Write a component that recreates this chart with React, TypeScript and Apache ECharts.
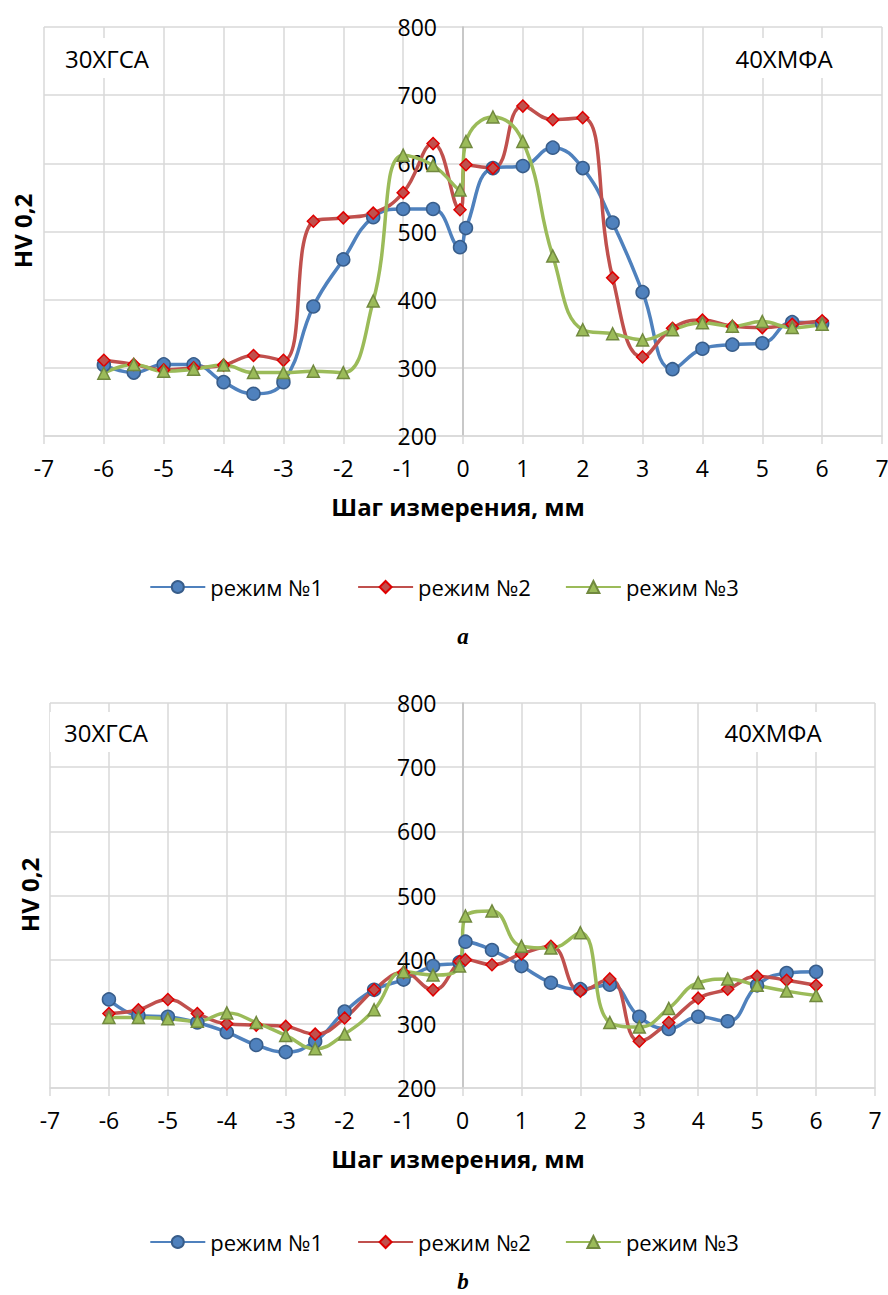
import React, { useEffect, useRef } from "react";
import * as echarts from "echarts";

// Measurement positions, mm (two points straddle the joint line at 0)
const X = [-6, -5.5, -5, -4.5, -4, -3.5, -3, -2.5, -2, -1.5, -1, -0.5, -0.05, 0.05, 0.5, 1, 1.5, 2, 2.5, 3, 3.5, 4, 4.5, 5, 5.5, 6];

const SERIES_NAMES = ["режим №1", "режим №2", "режим №3"];

// Chart a
const A1 = [304, 293, 305, 305, 279, 262, 279, 390, 459, 521, 533, 533, 477, 505, 593, 596, 623, 593, 513, 411, 298, 328, 334, 336, 367, 365];
const A2 = [311, 305, 297, 300, 304, 318, 311, 515, 520, 527, 557, 629, 532, 598, 593, 684, 664, 667, 432, 316, 358, 370, 361, 359, 364, 369];
const A3 = [292, 305, 295, 298, 304, 293, 293, 295, 293, 398, 612, 597, 561, 632, 668, 632, 464, 356, 350, 341, 356, 366, 361, 368, 359, 364];

// Chart b
const B1 = [338, 313, 311, 302, 287, 267, 256, 273, 319, 353, 369, 390, 396, 428, 415, 390, 364, 354, 361, 311, 292, 311, 304, 360, 379, 381];
const B2 = [316, 322, 338, 316, 300, 298, 296, 284, 309, 353, 380, 353, 397, 400, 392, 409, 421, 351, 370, 273, 302, 340, 354, 374, 368, 360];
const B3 = [310, 310, 308, 304, 317, 302, 282, 261, 284, 322, 381, 376, 390, 468, 476, 421, 418, 442, 302, 295, 324, 364, 370, 360, 351, 344];

const X_MIN = -7;
const X_MAX = 7;
const Y_MIN = 200;
const Y_MAX = 800;

const X_TITLE = "Шаг измерения, мм";
const Y_TITLE = "HV 0,2";
const LEFT_STEEL = "30ХГСА";
const RIGHT_STEEL = "40ХМФА";

const FONT = "'Open Sans', 'Noto Sans', sans-serif";
const GRID_COLOR = "#d9d9d9";

const STYLES = [
  { line: "#4f81bd", fill: "#4f81bd", border: "#385d8a", symbol: "circle", size: 13 },
  { line: "#c0504d", fill: "#c0504d", border: "#e00000", symbol: "diamond", size: 12 },
  { line: "#9bbb59", fill: "#9bbb59", border: "#71893f", symbol: "triangle", size: 12 },
];

// plot-area geometry of the two panels
const PANELS = [
  { left: 44, width: 838, top: 27, height: 409 },
  { left: 50, width: 825, top: 703, height: 385 },
];

function makeSeries(values: number[], idx: number, axis: number) {
  const s = STYLES[idx];
  return {
    name: SERIES_NAMES[idx],
    type: "line",
    xAxisIndex: axis,
    yAxisIndex: axis,
    data: X.map((x, i) => [x, values[i]]),
    smooth: 0.45,
    symbol: s.symbol,
    symbolSize: s.size,
    showAllSymbol: true,
    lineStyle: { color: s.line, width: 3.5 },
    itemStyle: { color: s.fill, borderColor: s.border, borderWidth: 1.5 },
    emphasis: { disabled: true },
  };
}

function makeXAxis(gridIndex: number) {
  return {
    type: "value",
    gridIndex,
    min: X_MIN,
    max: X_MAX,
    interval: 1,
    axisLine: { show: true, onZero: false, lineStyle: { color: GRID_COLOR, width: 1.5 } },
    axisTick: { show: true, length: 8, lineStyle: { color: GRID_COLOR, width: 1.5 } },
    axisLabel: { fontSize: 23, color: "#000", fontFamily: FONT, margin: 20 },
    splitLine: { show: true, lineStyle: { color: GRID_COLOR, width: 1.5 } },
  };
}

function makeYAxis(gridIndex: number) {
  const p = PANELS[gridIndex];
  // value axis crosses at x = 0: shift the left axis to the zero position
  const zeroOffset = (p.width * (0 - X_MIN)) / (X_MAX - X_MIN);
  return {
    type: "value",
    gridIndex,
    position: "left",
    offset: -zeroOffset,
    min: Y_MIN,
    max: Y_MAX,
    interval: 100,
    axisLine: { show: true, onZero: false, lineStyle: { color: "#bfbfbf", width: 1.5 } },
    axisTick: { show: false },
    axisLabel: { fontSize: 23, color: "#000", fontFamily: FONT, margin: 26 },
    splitLine: { show: true, lineStyle: { color: GRID_COLOR, width: 1.5 } },
  };
}

function text(t: string, x: number, y: number, extra: any = {}) {
  const { rotation, ...style } = extra;
  return {
    type: "text",
    x,
    y,
    z: 100,
    rotation: rotation || 0,
    style: {
      text: t,
      fontSize: 24,
      fontFamily: FONT,
      fill: "#000",
      align: "center",
      verticalAlign: "middle",
      textAlign: "center",
      textVerticalAlign: "middle",
      ...style,
    },
  };
}

function makeLegend(top: number) {
  return {
    data: SERIES_NAMES,
    left: "center",
    top,
    padding: 0,
    itemWidth: 55,
    itemHeight: 15,
    itemGap: 34,
    selectedMode: false,
    textStyle: { fontSize: 22, color: "#000", fontFamily: FONT },
  };
}

export default function App() {
  const ref = useRef<HTMLDivElement>(null);

  useEffect(() => {
    if (!ref.current) return;
    const chart = echarts.init(ref.current, null, { renderer: "svg" });
    const boxStyle = { backgroundColor: "#fff", padding: [8, 14] };
    const captionStyle = { fontFamily: "'Liberation Serif', serif", fontStyle: "italic", fontWeight: "bold", fontSize: 23 };
    const option: any = {
      animation: false,
      backgroundColor: "#fff",
      grid: PANELS.map((p) => ({
        left: p.left,
        top: p.top,
        width: p.width,
        height: p.height,
        containLabel: false,
        outerBoundsMode: "none",
      })),
      xAxis: [makeXAxis(0), makeXAxis(1)],
      yAxis: [makeYAxis(0), makeYAxis(1)],
      legend: [makeLegend(576), makeLegend(1231)],
      series: [
        makeSeries(A1, 0, 0),
        makeSeries(A2, 1, 0),
        makeSeries(A3, 2, 0),
        makeSeries(B1, 0, 1),
        makeSeries(B2, 1, 1),
        makeSeries(B3, 2, 1),
      ],
      graphic: [
        text(LEFT_STEEL, 107, 58, boxStyle),
        text(RIGHT_STEEL, 784, 58, boxStyle),
        text(X_TITLE, 458, 506, { fontWeight: "bold" }),
        text(Y_TITLE, 22, 231, { fontWeight: "bold", rotation: Math.PI / 2 }),
        text("a", 463, 636, captionStyle),
        text(LEFT_STEEL, 106, 732, boxStyle),
        text(RIGHT_STEEL, 773, 732, boxStyle),
        text(X_TITLE, 458, 1158, { fontWeight: "bold" }),
        text(Y_TITLE, 29, 895, { fontWeight: "bold", rotation: Math.PI / 2 }),
        text("b", 463, 1281, captionStyle),
      ],
    };
    chart.setOption(option);
    return () => chart.dispose();
  }, []);

  return (
    <div
      ref={ref}
      style={{ position: "absolute", left: 0, top: 0, width: 888, height: 1295, background: "#fff" }}
    />
  );
}
